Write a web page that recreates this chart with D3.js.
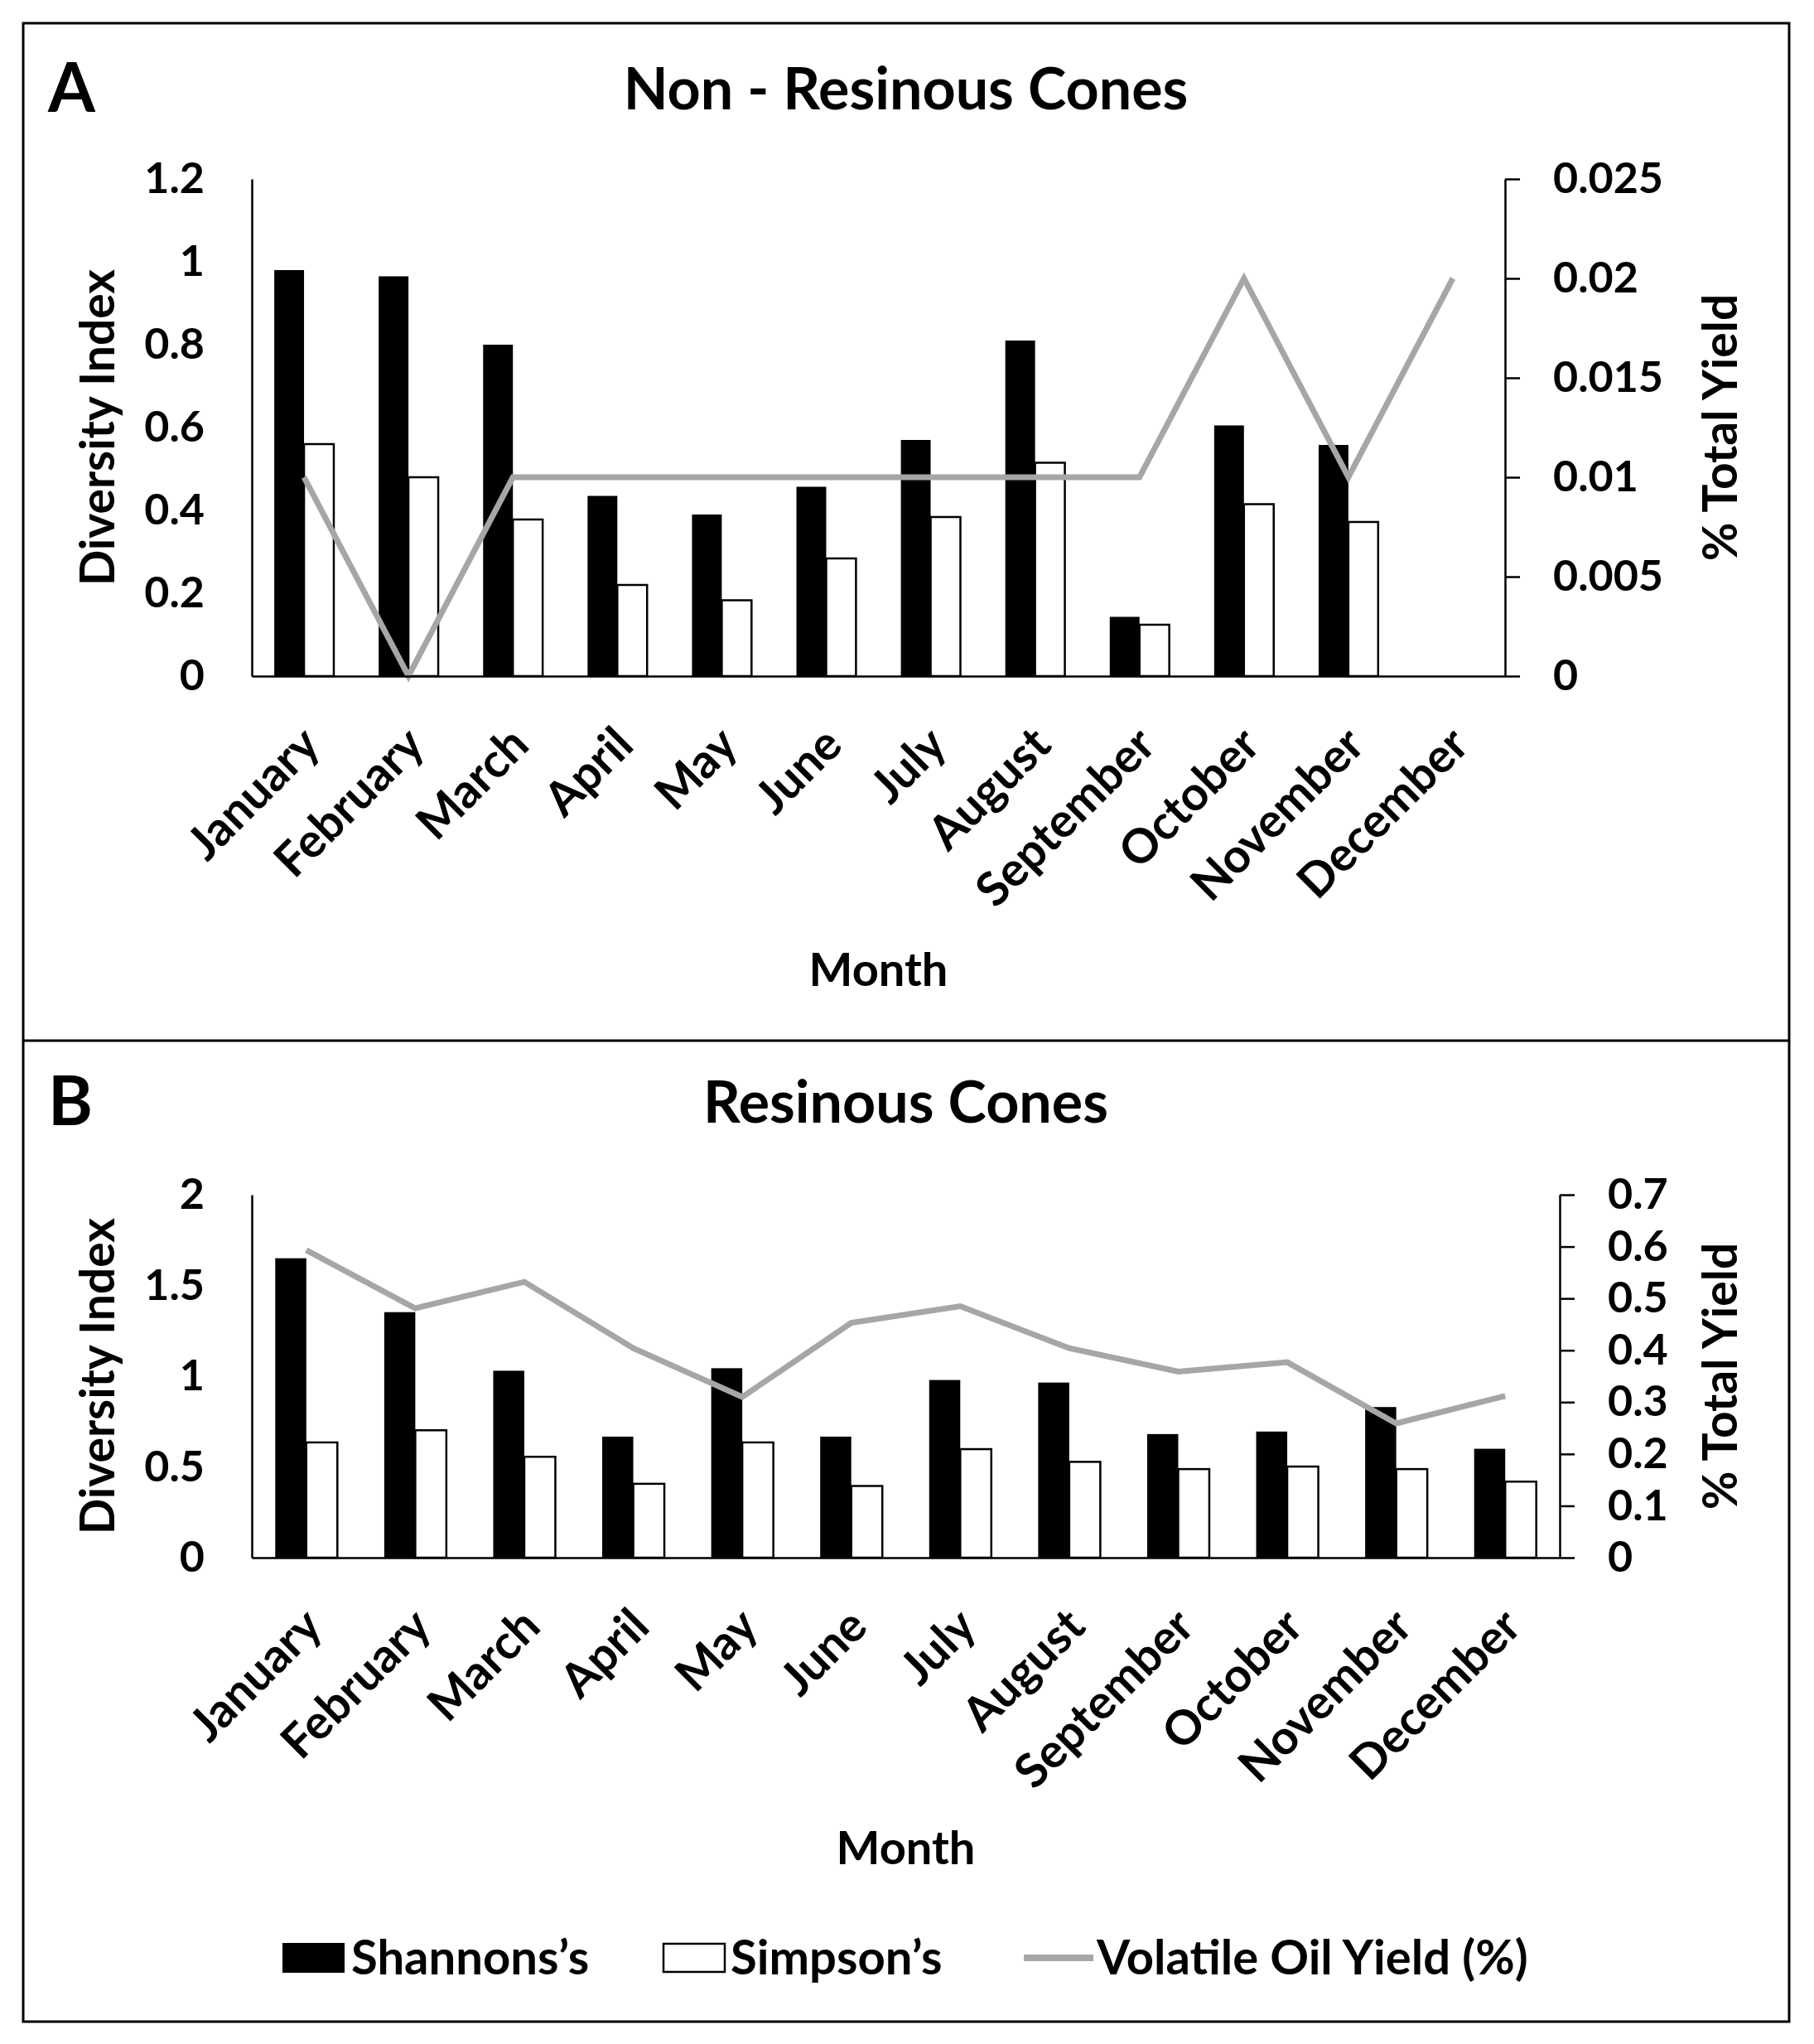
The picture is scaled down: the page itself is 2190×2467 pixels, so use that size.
<!DOCTYPE html>
<html>
<head>
<meta charset="utf-8">
<script src="https://cdn.jsdelivr.net/npm/d3@7"></script>
<style>
  body { margin: 0; background: #fff; }
  text { font-family: Lato, "Open Sans", sans-serif; font-weight: 700; fill: #000; }
</style>
</head>
<body>
<div id="chart"></div>
<script>
const months = ["January", "February", "March", "April", "May", "June", "July",
  "August", "September", "October", "November", "December"];

// Panel A: non-resinous cones
const shannonA = [0.98, 0.965, 0.80, 0.435, 0.39, 0.457, 0.57, 0.81, 0.143, 0.605, 0.558, 0];
const simpsonA = [0.56, 0.48, 0.378, 0.22, 0.183, 0.284, 0.384, 0.515, 0.124, 0.415, 0.372, 0];
const yieldA = [0.01, 0, 0.01, 0.01, 0.01, 0.01, 0.01, 0.01, 0.01, 0.02, 0.01, 0.02];
const leftTicksA = [0, 0.2, 0.4, 0.6, 0.8, 1, 1.2];
const rightTicksA = [0, 0.005, 0.01, 0.015, 0.02, 0.025];

// Panel B: resinous cones
const shannonB = [1.65, 1.353, 1.03, 0.667, 1.044, 0.667, 0.979, 0.965, 0.681, 0.695, 0.83, 0.60];
const simpsonB = [0.635, 0.702, 0.556, 0.407, 0.635, 0.395, 0.598, 0.528, 0.488, 0.502, 0.488, 0.419];
const yieldB = [0.593, 0.481, 0.532, 0.404, 0.31, 0.453, 0.485, 0.404, 0.359, 0.377, 0.259, 0.312];
const leftTicksB = [0, 0.5, 1, 1.5, 2];
const rightTicksB = [0, 0.1, 0.2, 0.3, 0.4, 0.5, 0.6, 0.7];

const W = 2190, H = 2467;
const lineColor = "#a6a6a6";

const svg = d3.select("#chart").append("svg")
  .attr("width", W).attr("height", H)
  .attr("viewBox", `0 0 ${W} ${H}`);

// frame + divider
svg.append("rect")
  .attr("x", 28).attr("y", 28).attr("width", 2132).attr("height", 2412)
  .attr("fill", "none").attr("stroke", "#000").attr("stroke-width", 3);
svg.append("line")
  .attr("x1", 28).attr("x2", 2160).attr("y1", 1256).attr("y2", 1256)
  .attr("stroke", "#000").attr("stroke-width", 3);

const drawPanel = (p) => {
  const x = d3.scaleBand().domain(months).range([p.left, p.right]);
  const yL = d3.scaleLinear().domain([0, d3.max(p.leftTicks)]).range([p.bottom, p.top]);
  const yR = d3.scaleLinear().domain([0, d3.max(p.rightTicks)]).range([p.bottom, p.top]);
  const bw = x.bandwidth() * 0.285;

  const g = svg.append("g");

  // panel letter + title
  g.append("text").attr("x", 58).attr("y", p.titleY + 3)
    .style("font-size", "82px").text(p.letter);
  g.append("text").attr("x", (p.left + p.right) / 2 + p.titleDx).attr("y", p.titleY)
    .attr("text-anchor", "middle").style("font-size", "70px").text(p.title);

  // bars
  const rows = months.map((m, i) => ({ m, sh: p.shannon[i], si: p.simpson[i], yl: p.yield[i] }));
  g.selectAll(".sh").data(rows.filter(d => d.sh > 0)).join("rect")
    .attr("x", d => x(d.m) + x.bandwidth() / 2 - bw)
    .attr("y", d => yL(d.sh))
    .attr("width", bw)
    .attr("height", d => yL(0) - yL(d.sh))
    .attr("fill", "#000");
  g.selectAll(".si").data(rows.filter(d => d.si > 0)).join("rect")
    .attr("x", d => x(d.m) + x.bandwidth() / 2)
    .attr("y", d => yL(d.si))
    .attr("width", bw)
    .attr("height", d => yL(0) - yL(d.si))
    .attr("fill", "#fff").attr("stroke", "#000").attr("stroke-width", 2.5);

  // yield line
  g.append("path").datum(rows)
    .attr("fill", "none").attr("stroke", lineColor).attr("stroke-width", 7)
    .attr("stroke-linejoin", "miter")
    .attr("d", d3.line().x(d => x(d.m) + x.bandwidth() / 2).y(d => yR(d.yl)));

  // left axis
  const axL = g.append("g").attr("transform", `translate(${p.left},0)`)
    .call(d3.axisLeft(yL).tickValues(p.leftTicks).tickSize(0).tickPadding(57)
      .tickFormat(d => String(+d.toFixed(3))));
  axL.select(".domain").attr("stroke-width", 2.5);
  axL.selectAll("text").style("font-size", "52px").style("font-family", null);

  // right axis
  const axR = g.append("g").attr("transform", `translate(${p.right},0)`)
    .call(d3.axisRight(yR).tickValues(p.rightTicks).tickSize(18).tickSizeOuter(0).tickPadding(40)
      .tickFormat(d => String(+d.toFixed(3))));
  axR.selectAll("line, .domain").attr("stroke-width", 2.5);
  axR.selectAll("text").style("font-size", "52px").style("font-family", null);

  // x axis
  const axX = g.append("g").attr("transform", `translate(0,${p.bottom})`)
    .call(d3.axisBottom(x).tickSize(0).tickSizeOuter(0));
  axX.select(".domain").attr("stroke-width", 2.5);
  axX.selectAll("text")
    .attr("x", 0).attr("y", 0).attr("dy", "0.35em")
    .attr("text-anchor", "end")
    .attr("transform", "translate(8,72) rotate(-45)")
    .style("font-size", "57px").style("font-family", null);

  // axis titles
  g.append("text").attr("text-anchor", "middle")
    .attr("transform", `translate(118,${(p.top + p.bottom) / 2}) rotate(-90)`)
    .attr("dy", "0.35em").style("font-size", "57px").text("Diversity Index");
  g.append("text").attr("text-anchor", "middle")
    .attr("transform", `translate(2077,${(p.top + p.bottom) / 2}) rotate(-90)`)
    .attr("dy", "0.35em").style("font-size", "57px").text("% Total Yield");
  g.append("text").attr("x", (p.left + p.right) / 2).attr("y", p.monthY)
    .attr("text-anchor", "middle").style("font-size", "56px").text("Month");
};

drawPanel({
  letter: "A", title: "Non - Resinous Cones", titleY: 132, titleDx: 33,
  left: 304, right: 1817, top: 216, bottom: 816, monthY: 1190,
  shannon: shannonA, simpson: simpsonA, yield: yieldA,
  leftTicks: leftTicksA, rightTicks: rightTicksA
});
drawPanel({
  letter: "B", title: "Resinous Cones", titleY: 1355, titleDx: 0,
  left: 304, right: 1883, top: 1442, bottom: 1880, monthY: 2250,
  shannon: shannonB, simpson: simpsonB, yield: yieldB,
  leftTicks: leftTicksB, rightTicks: rightTicksB
});

// legend
const leg = svg.append("g");
leg.append("rect").attr("x", 341).attr("y", 2345).attr("width", 75).attr("height", 36).attr("fill", "#000");
leg.append("text").attr("x", 424).attr("y", 2383).style("font-size", "58px").text("Shannons’s");
leg.append("rect").attr("x", 801).attr("y", 2346).attr("width", 74).attr("height", 34)
  .attr("fill", "#fff").attr("stroke", "#000").attr("stroke-width", 2.5);
leg.append("text").attr("x", 882).attr("y", 2383).style("font-size", "58px").text("Simpson’s");
leg.append("line").attr("x1", 1236).attr("x2", 1320).attr("y1", 2363).attr("y2", 2363)
  .attr("stroke", lineColor).attr("stroke-width", 8);
leg.append("text").attr("x", 1324).attr("y", 2383).style("font-size", "58px").text("Volatile Oil Yield (%)");
</script>
</body>
</html>
